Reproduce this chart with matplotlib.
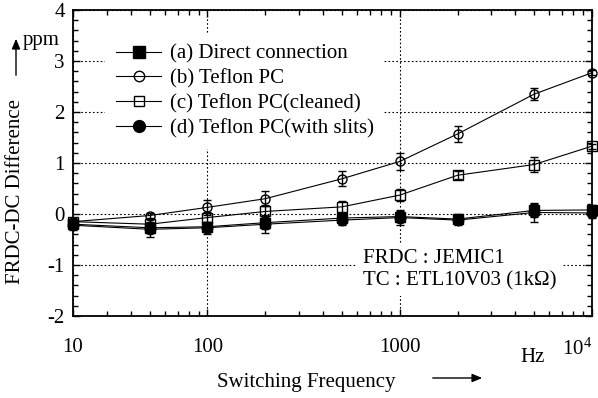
import matplotlib
matplotlib.use("Agg")
import matplotlib.pyplot as plt
from matplotlib.lines import Line2D
from matplotlib.ticker import MultipleLocator, LogLocator, NullFormatter, FixedLocator

plt.rcParams['font.family'] = ['Liberation Serif', 'DejaVu Serif']
plt.rcParams['mathtext.fontset'] = 'custom'
plt.rcParams['mathtext.rm'] = 'Liberation Serif'
plt.rcParams['axes.unicode_minus'] = False

freq = [20, 50, 100, 200, 500, 1000, 2000, 5000, 10000]
a_vals = [-0.20, -0.27, -0.25, -0.17, -0.08, -0.05, -0.10, 0.07, 0.08]
b_vals = [-0.15, -0.03, 0.13, 0.30, 0.69, 1.03, 1.57, 2.35, 2.77]
c_vals = [-0.15, -0.20, -0.07, 0.05, 0.14, 0.37, 0.76, 0.97, 1.33]
d_vals = [-0.22, -0.30, -0.27, -0.20, -0.12, -0.07, -0.12, 0.03, 0.02]
a_err = [0.10, 0.10, 0.10, 0.12, 0.10, 0.10, 0.10, 0.12, 0.10]
b_err = [0.05, 0.05, 0.15, 0.15, 0.15, 0.16, 0.15, 0.12, 0.05]
c_err = [0.05, 0.10, 0.10, 0.12, 0.12, 0.12, 0.08, 0.15, 0.05]
d_err = [0.10, 0.15, 0.12, 0.18, 0.10, 0.15, 0.10, 0.18, 0.10]

labels = ['(a) Direct connection', '(b) Teflon PC',
          '(c) Teflon PC(cleaned)', '(d) Teflon PC(with slits)']
xtick_pos = [20, 100, 1000, 10000]
xtick_labels = ['10', '100', '1000', r'$\mathregular{10^4}$']
ytick_vals = [-2, -1, 0, 1, 2, 3, 4]

FS = 15

fig = plt.figure(figsize=(5.98, 3.98), dpi=100)
ax = fig.add_axes([73/598, 1-316/398, (592-73)/598, (316-10)/398])

series = [
    (a_vals, a_err, 's', 'k', 7.5),
    (b_vals, b_err, 'o', 'none', 6.5),
    (c_vals, c_err, 's', 'none', 6.5),
    (d_vals, d_err, 'o', 'k', 7.5),
]
handles = []
for (vals, err, m, fc, ms), lab in zip(series, labels):
    ax.errorbar(freq, vals, yerr=err, fmt='-', marker=m, mfc=fc, mec='k',
                color='k', lw=0.8, ms=ms, mew=1.0, capsize=3, elinewidth=1.0,
                capthick=1.0, clip_on=False, zorder=3)
    handles.append(Line2D([], [], color='k', lw=0.8, marker=m, mfc=fc, mec='k',
                          ms=ms + 1, mew=1.0, label=lab))

ax.set_xscale('log')
ax.set_xlim(20, 10000)
ax.set_ylim(-2, 4)
ax.xaxis.set_major_locator(FixedLocator(xtick_pos))
ax.set_xticklabels(xtick_labels)
ax.xaxis.set_minor_locator(LogLocator(base=10, subs=range(2, 10)))
ax.xaxis.set_minor_formatter(NullFormatter())
ax.set_yticks(ytick_vals)
ax.yaxis.set_minor_locator(MultipleLocator(0.2))
ax.tick_params(which='both', direction='in', top=True, right=True, labelsize=FS, color='k')
ax.tick_params(which='major', length=5, width=1)
ax.tick_params(which='minor', length=3.5, width=1)
ax.tick_params(axis='x', pad=16)
ax.tick_params(axis='y', pad=6)
tl = ax.get_xticklabels()
tl[-1].set_ha('right')
for s in ax.spines.values():
    s.set_linewidth(1.3)

ax.grid(True, which='major', linestyle=(0, (1.5, 2)), color='k', lw=0.8)
ax.set_axisbelow(True)

leg = ax.legend(handles=handles, loc='upper left', bbox_to_anchor=(0.062, 0.922),
                fontsize=FS, frameon=True, fancybox=False, edgecolor='none',
                facecolor='white', framealpha=1, handlelength=2.2,
                handletextpad=0.4, labelspacing=0.25, borderpad=0.5,
                borderaxespad=0)
leg.set_zorder(5)

def fx(px):
    return px / 598
def fy(py):
    return 1 - py / 398

ax.text(fx(363), fy(270), 'FRDC : JEMIC1\nTC : ETL10V03 (1kΩ)',
        transform=fig.transFigure, fontsize=FS, va='center', ha='left',
        linespacing=1.2, zorder=6,
        bbox=dict(facecolor='white', edgecolor='none', pad=4))

fig.text(fx(16), fy(192), 'FRDC-DC Difference', rotation=90, fontsize=FS,
         ha='center', va='center')
fig.text(fx(306), fy(383), 'Switching Frequency', fontsize=FS, ha='center', va='center')
fig.text(fx(533), fy(357), 'Hz', fontsize=FS, ha='center', va='center')
fig.text(fx(23), fy(40), 'ppm', fontsize=FS, ha='left', va='center')
fig.patches.append(matplotlib.patches.FancyArrowPatch(
    (fx(430), fy(378)), (fx(485), fy(378)), transform=fig.transFigure,
    arrowstyle='-|>,head_length=6,head_width=2.5', color='k', lw=1.0,
    mutation_scale=1))
fig.patches.append(matplotlib.patches.FancyArrowPatch(
    (fx(16), fy(78)), (fx(16), fy(36)), transform=fig.transFigure,
    arrowstyle='-|>,head_length=6,head_width=2.5', color='k', lw=1.0,
    mutation_scale=1))

fig.savefig('out.png', dpi=100)
